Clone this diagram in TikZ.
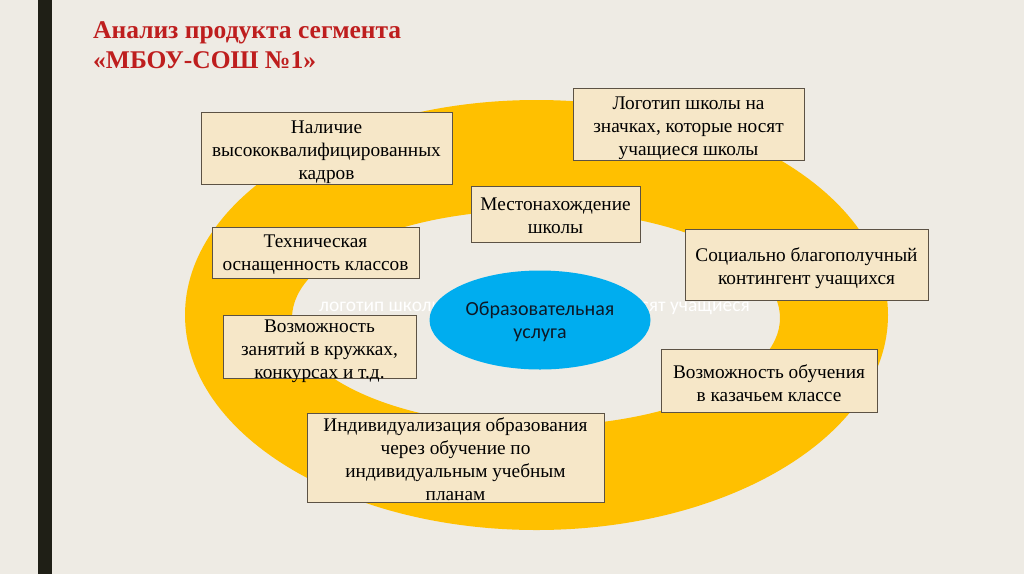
\documentclass[tikz,border=0pt]{standalone}
\usepackage{fontspec}
\usetikzlibrary{shapes.geometric}
\setmainfont{Liberation Serif}
\newfontfamily\carl{Carlito}
\definecolor{bgc}{HTML}{EEEBE4}
\definecolor{barc}{HTML}{1F1F16}
\definecolor{ringc}{HTML}{FFC000}
\definecolor{bluec}{HTML}{00ADEF}
\definecolor{boxfill}{HTML}{F6E7C8}
\definecolor{boxline}{HTML}{5C5244}
\definecolor{titlec}{HTML}{BE1E1E}
\definecolor{ovaltext}{HTML}{0D1826}
\tikzset{
  boxshape/.style={draw=boxline, fill=boxfill, line width=1pt, inner sep=0pt},
  boxtext/.style={inner sep=0pt, align=center, text=black, font=\fontsize{19.3}{23}\selectfont},
  titletext/.style={inner sep=0pt, anchor=base west, text=titlec, font=\bfseries\fontsize{25.5}{30}\selectfont},
  ghosttext/.style={inner sep=0pt, text depth=0pt, text=white, font=\carl\fontsize{19.5}{22}\selectfont},
}
\begin{document}
\begin{tikzpicture}[x=1pt,y=-1pt]
\useasboundingbox (0,0) rectangle (1024,574);
\fill[bgc] (0,0) rectangle (1024,574);
\fill[barc] (38,0) rectangle (52,574);
% ring
\fill[ringc, even odd rule] (536.5,315) ellipse [x radius=351.5pt, y radius=215pt]
  (536,318) ellipse [x radius=244pt, y radius=108pt];
% ghost text (partly hidden behind the oval)
\node[ghosttext, anchor=base west] (ghostL) at (319,311) {логотип школы};
\node[ghosttext, anchor=base east] (ghostR) at (750,311) {носят учащиеся};
% central oval
\node[ellipse, fill=bluec, minimum width=221pt, minimum height=99pt, inner sep=0pt] (oval) at (540,320) {};
\node[inner sep=0pt, align=center, text=ovaltext, font=\carl\fontsize{20}{23}\selectfont] (ovaltxt) at (540,322) {Образовательная\\услуга};
% boxes
\node[boxshape, minimum width=251pt, minimum height=72pt] (b1) at (326.5,148) {};
\node[boxtext, yshift=-4.5pt] (t1) at (b1.center) {Наличие\\высококвалифицированных\\кадров};
\node[boxshape, minimum width=207pt, minimum height=51pt] (b2) at (315.5,252.5) {};
\node[boxtext, yshift=-2pt] (t2) at (b2.center) {Техническая\\оснащенность классов};
\node[boxshape, minimum width=169pt, minimum height=56pt] (b3) at (555.5,214) {};
\node[boxtext, yshift=-2pt] (t3) at (b3.center) {Местонахождение\\школы};
\node[boxshape, minimum width=231pt, minimum height=72pt] (b4) at (688.5,124) {};
\node[boxtext, yshift=-4pt] (t4) at (b4.center) {Логотип школы на\\значках, которые носят\\учащиеся школы};
\node[boxshape, minimum width=243pt, minimum height=71pt] (b5) at (806.5,264.5) {};
\node[boxtext, yshift=-4pt] (t5) at (b5.center) {Социально благополучный\\контингент учащихся};
\node[boxshape, minimum width=193pt, minimum height=63pt] (b6) at (319.5,346.5) {};
\node[boxtext, yshift=-4.5pt] (t6) at (b6.center) {Возможность\\занятий в кружках,\\конкурсах и т.д.};
\node[boxshape, minimum width=216pt, minimum height=63pt] (b7) at (769,380.5) {};
\node[boxtext, yshift=-3pt] (t7) at (b7.center) {Возможность обучения\\в казачьем классе};
\node[boxshape, minimum width=297pt, minimum height=89pt] (b8) at (455.5,457.5) {};
\node[boxtext, yshift=-2pt] (t8) at (b8.center) {Индивидуализация образования\\через обучение по\\индивидуальным учебным\\планам};
% title
\node[titletext] (title1) at (93,38) {Анализ продукта сегмента};
\node[titletext] (title2) at (93,68) {«МБОУ-СОШ №1»};
\end{tikzpicture}
\end{document}
